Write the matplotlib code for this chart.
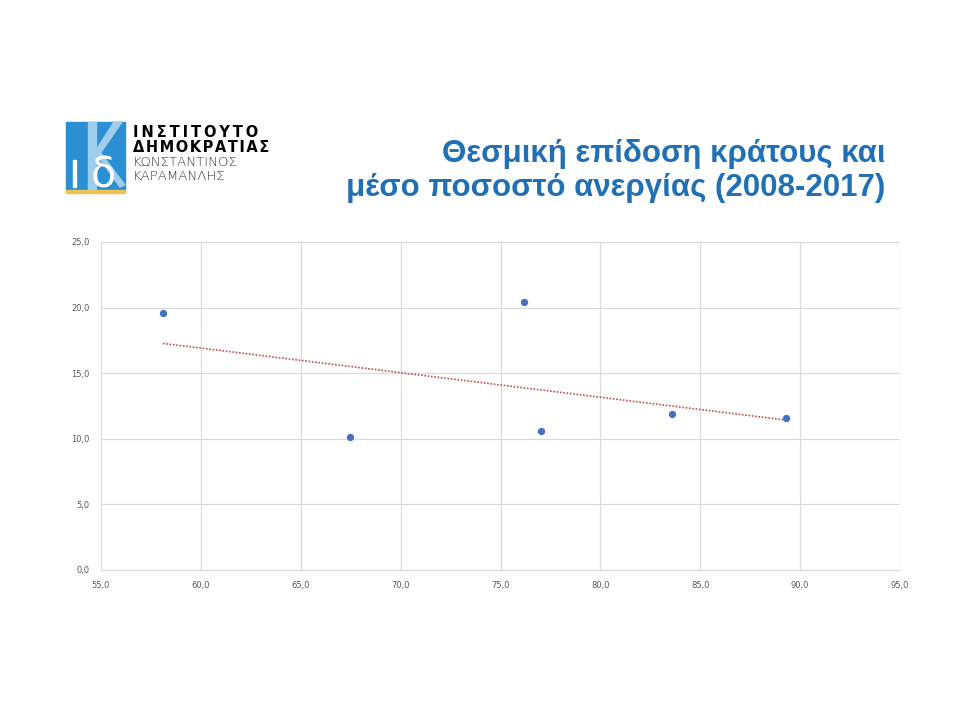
import numpy as np
import matplotlib.pyplot as plt
from matplotlib.patches import Rectangle, Polygon

# data (institutional performance vs mean unemployment)
perf = [58.1, 67.45, 76.2, 77.05, 83.6, 89.3]
unemp = [19.6, 10.15, 20.45, 10.6, 11.9, 11.6]
xticks = [55, 60, 65, 70, 75, 80, 85, 90, 95]
yticks = [0, 5, 10, 15, 20, 25]

title = 'Θεσμική επίδοση κράτους και\nμέσο ποσοστό ανεργίας (2008-2017)'

fig = plt.figure(figsize=(9.6, 7.2), dpi=100)
fig.patch.set_facecolor('white')

# ---- logo ----
W, H = 960, 720
def fx(px):
    return px / W
def fy(py):
    return 1 - py / H

fig.patches.append(Rectangle((fx(66), fy(189)), fx(125) - fx(66), fy(122) - fy(189),
                             transform=fig.transFigure, color='#2b8fd3', zorder=1))
fig.patches.append(Rectangle((fx(88), fy(189)), fx(96) - fx(88), fy(122) - fy(189),
                             transform=fig.transFigure, color='#9fcdee', zorder=2))
fig.patches.append(Polygon([(fx(114), fy(122)), (fx(122), fy(122)), (fx(97), fy(158)), (fx(96), fy(150))],
                           closed=True, transform=fig.transFigure, color='#9fcdee', zorder=2))
fig.patches.append(Polygon([(fx(97), fy(155)), (fx(100), fy(152)), (fx(125), fy(185)), (fx(120), fy(187))],
                           closed=True, transform=fig.transFigure, color='#9fcdee', zorder=2))
fig.patches.append(Rectangle((fx(73), fy(187)), fx(76) - fx(73), fy(160) - fy(187),
                             transform=fig.transFigure, color='white', zorder=3))
fig.text(fx(103), fy(188), 'δ', color='white', fontsize=30, ha='center', va='baseline',
         family='DejaVu Sans', zorder=4)
fig.patches.append(Rectangle((fx(66), fy(193)), fx(125) - fx(66), fy(190) - fy(193),
                             transform=fig.transFigure, color='#f2c14e', zorder=1))

fig.text(fx(133), fy(137), '\u2009'.join('ΙΝΣΤΙΤΟΥΤΟ'), fontsize=10.5, fontweight='bold',
         color='black', family='DejaVu Sans', va='baseline')
fig.text(fx(133), fy(152), '\u200a'.join('ΔΗΜΟΚΡΑΤΙΑΣ'), fontsize=10.5, fontweight='bold',
         color='black', family='DejaVu Sans', va='baseline')
fig.text(fx(133), fy(166), 'ΚΩΝΣΤΑΝΤΙΝΟΣ', fontsize=9.5, color='#333333',
         family='DejaVu Sans', va='baseline', fontweight='light')
fig.text(fx(133), fy(180), 'ΚΑΡΑΜΑΝΛΗΣ', fontsize=9.5, color='#333333',
         family='DejaVu Sans', va='baseline', fontweight='light')

# ---- title ----
fig.text(fx(885), fy(171), title, ha='right', va='center', fontsize=22.5,
         fontweight='bold', color='#2070b5', family='Liberation Sans', linespacing=1.15)

# ---- chart ----
ax = fig.add_axes([101 / W, 1 - 570 / H, (900 - 101) / W, (570 - 242) / H])
ax.scatter(perf, unemp, s=18, color='#4470bd', zorder=3)

# linear trend
k, b = np.polyfit(perf, unemp, 1)
xs = np.array([min(perf), max(perf)])
ax.plot(xs, k * xs + b, color='#c0504d', linestyle=(0, (1, 1)), linewidth=1.2, zorder=2)

ax.set_xlim(55, 95)
ax.set_ylim(0, 25)
ax.set_xticks(xticks)
ax.set_yticks(yticks)
ax.set_xticklabels([('%.1f' % v).replace('.', ',') for v in xticks])
ax.set_yticklabels([('%.1f' % v).replace('.', ',') for v in yticks])
ax.tick_params(length=0, labelsize=6, colors='#595959', pad=8)
ax.grid(True, color='#d9d9d9', linewidth=0.8)
ax.set_axisbelow(True)
for s in ax.spines.values():
    s.set_visible(False)
ax.spines['bottom'].set_visible(True)
ax.spines['bottom'].set_color('#d9d9d9')

fig.savefig('out.png', dpi=100)
